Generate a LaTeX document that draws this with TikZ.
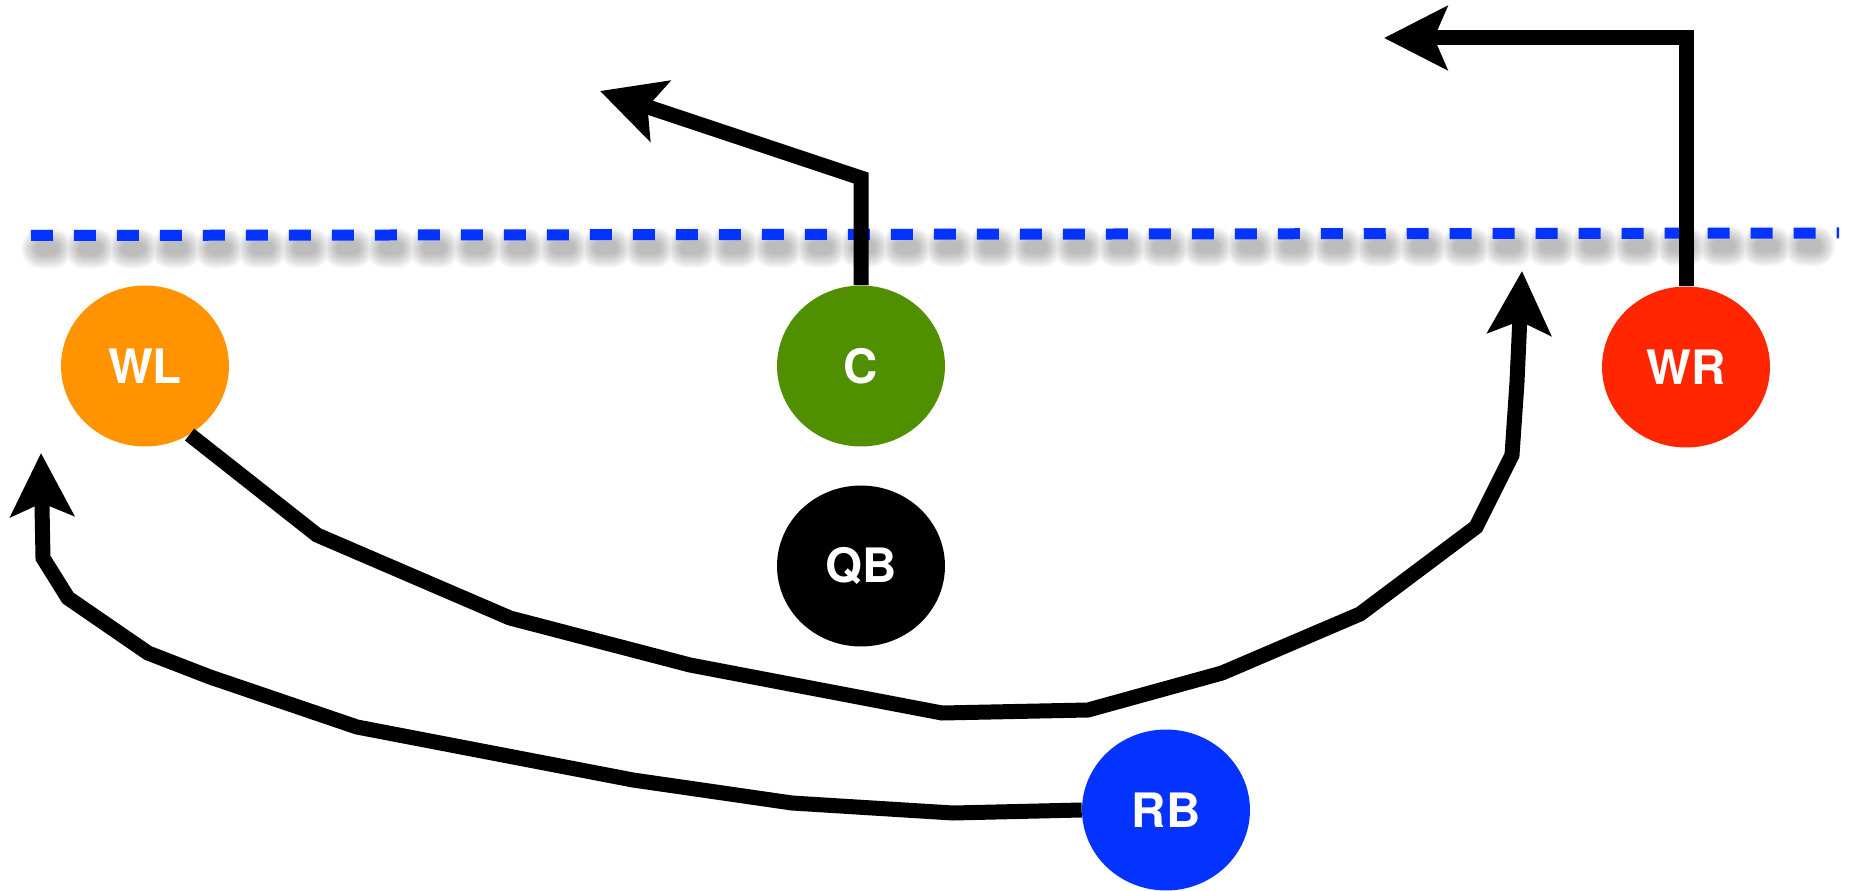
\documentclass[tikz,border=0pt]{standalone}
\usepackage{fontspec}
\setmainfont{TeX Gyre Heros}
\usetikzlibrary{arrows.meta,shapes.geometric}
\definecolor{tangerine}{HTML}{FF9300}
\definecolor{clover}{HTML}{4F8F00}
\definecolor{maraschino}{HTML}{FF2600}
\definecolor{blueberry}{HTML}{0433FF}
\begin{document}
\begin{tikzpicture}[x=0.02cm,y=-0.02cm,
  player/.style={ellipse,fill=#1,minimum width=3.36cm,minimum height=3.22cm,inner sep=0,
    text=white,font=\fontsize{27}{30}\selectfont\bfseries},
  route/.style={line width=0.3cm,-{Stealth[length=1.26cm,width=1.26cm,inset=0.26cm]}}]
\useasboundingbox (0,0) rectangle (1872,891);
% shadow of the line
\foreach \b in {2,4,...,30}
  \draw[black,opacity=0.02,line cap=round,line width=(11+\b)*0.02cm,
    dash pattern=on 0.22cm off 0.64cm] (41.5,248.5) -- (1844,246);
\draw[blueberry,line width=0.22cm,dash pattern=on 0.44cm off 0.42cm] (31,235.5) -- (1839,233);
% players
\foreach \n/\x/\y/\c in {WL/145/366/tangerine,C/861/366/clover,WR/1686/367/maraschino,
  QB/861/566/black,RB/1166/810/blueberry}
  \node[player=\c] (\n) at (\x,\y) {\n};
% routes
\coordinate (Cbend) at (861,178);
\coordinate (Ctip) at (600,91);
\coordinate (WRbend) at (1686,38);
\coordinate (WRtip) at (1384,38);
\coordinate (WLtip) at (1522,271);
\coordinate (RBtip) at (41,453);
\draw[route] (C.north) -- (Cbend) -- (Ctip);
\draw[route] (WR.north) -- (WRbend) -- (WRtip);
\draw[route] (WL.-57) -- (317,535) -- (510,618) -- (690,665) -- (942,713) -- (1088,710)
  -- (1222,673) -- (1360,614) -- (1476,527) -- (1512,455) -- (1517,382) -- (WLtip);
\draw[route] (RB.west) -- (953,813) -- (792,803) -- (633,780) -- (357,727) -- (210,677)
  -- (148,653) -- (68,598) -- (43,558) -- (RBtip);
\end{tikzpicture}
\end{document}
